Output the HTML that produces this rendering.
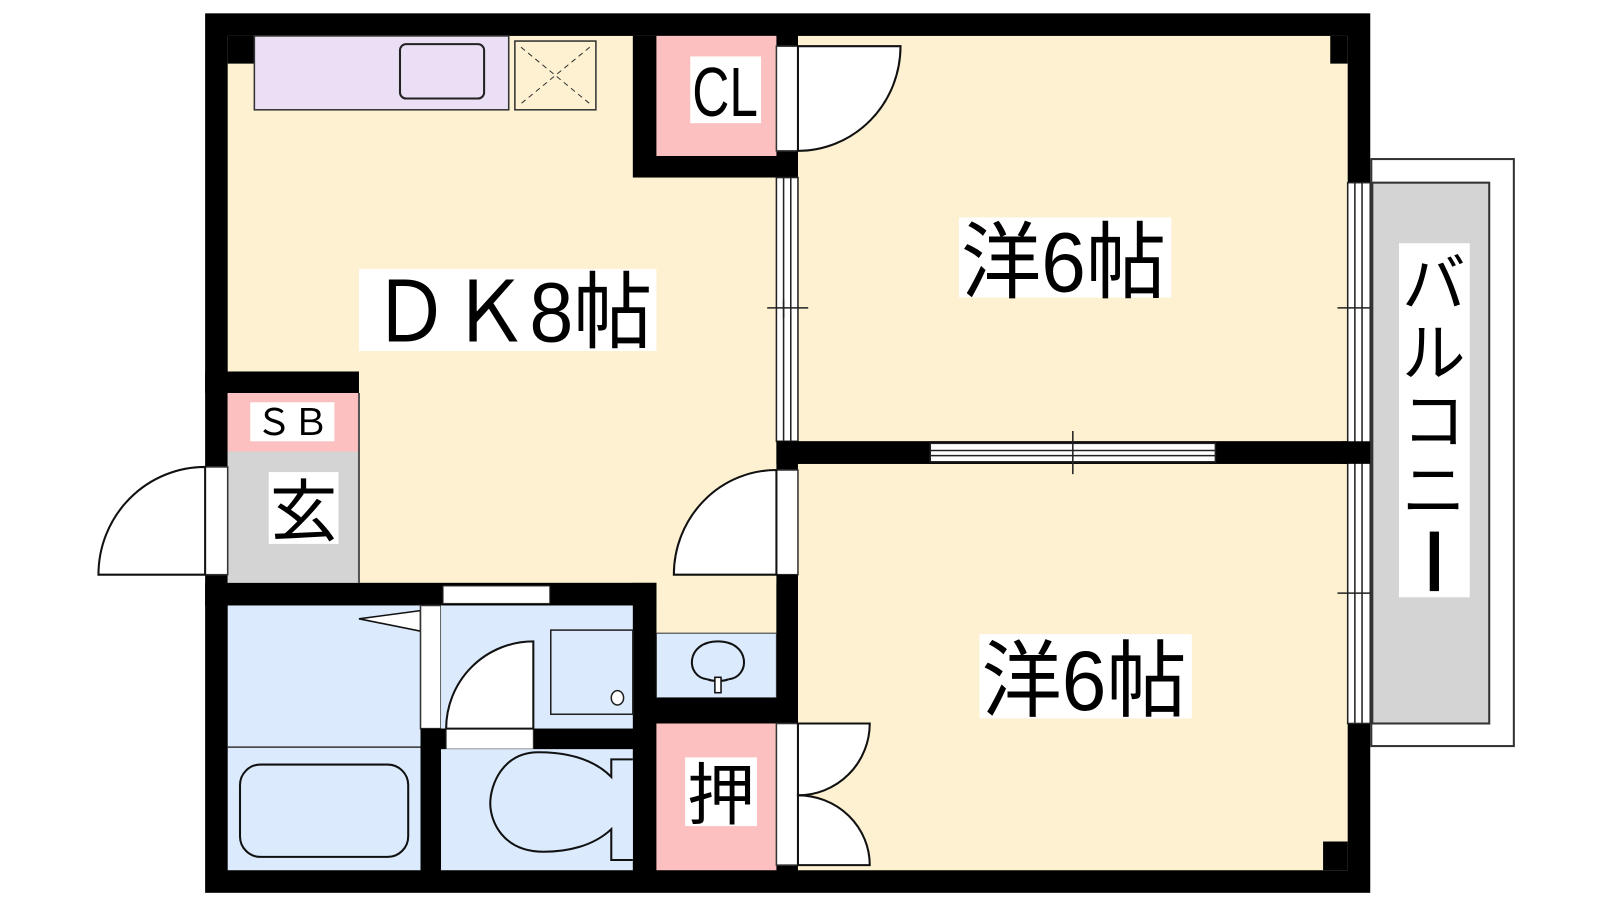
<!DOCTYPE html>
<html><head><meta charset="utf-8"><style>
html,body{margin:0;padding:0;background:#fff;width:1600px;height:900px;overflow:hidden}
svg{display:block}
text{font-family:"Liberation Sans","Noto Sans CJK JP",sans-serif;fill:#000}
</style></head><body>
<svg width="1600" height="900" viewBox="0 0 1560 877" preserveAspectRatio="none" xmlns="http://www.w3.org/2000/svg">
<rect x="200" y="13" width="1136" height="857" fill="#000"/>
<rect x="222" y="35" width="535" height="533" fill="#fdf1d1"/>
<rect x="778" y="35" width="536" height="395" fill="#fdf1d1"/>
<rect x="778" y="452" width="536" height="396" fill="#fdf1d1"/>
<rect x="640" y="560" width="117" height="60" fill="#fdf1d1"/>
<rect x="222" y="35" width="26" height="27" fill="#000"/>
<rect x="1297" y="35" width="17" height="27" fill="#000"/>
<rect x="1290" y="820" width="24" height="28" fill="#000"/>
<rect x="248" y="35" width="248" height="72" fill="#ebdff5" stroke="#333" stroke-width="1.5"/>
<rect x="390" y="43" width="82" height="53" rx="6" fill="#ebdff5" stroke="#222" stroke-width="2"/>
<rect x="502" y="40" width="79" height="67" fill="#fdf1d1" stroke="#333" stroke-width="1.5"/>
<path d="M508 46 L575 101 M575 46 L508 101" stroke="#333" stroke-dasharray="5,4" stroke-width="1"/>
<rect x="617" y="35" width="161" height="138" fill="#000"/>
<rect x="640" y="35" width="117" height="117" fill="#fdc0c0"/>
<rect x="673" y="55" width="69" height="65" fill="#fff"/>
<text x="675" y="113" font-size="68" textLength="64" lengthAdjust="spacingAndGlyphs">CL</text>
<rect x="757" y="45" width="21" height="102" fill="#fff" stroke="#333" stroke-width="1.5"/>
<path d="M778 45 L878 45 A100 102 0 0 1 778 147 Z" fill="#fff" stroke="#111" stroke-width="2"/>
<rect x="757" y="173" width="21" height="257" fill="#fff" stroke="#222" stroke-width="1.5"/>
<line x1="764" y1="173" x2="764" y2="430" stroke="#222" stroke-width="1.5"/>
<line x1="771" y1="173" x2="771" y2="430" stroke="#222" stroke-width="1.5"/>
<line x1="748" y1="300" x2="788" y2="300" stroke="#222" stroke-width="1.5"/>
<line x1="764" y1="292" x2="764" y2="310" stroke="#222" stroke-width="1.5"/>
<rect x="757" y="430" width="579" height="22" fill="#000"/>
<rect x="907" y="432" width="278" height="18" fill="#fff" stroke="#222" stroke-width="1.5"/>
<line x1="907" y1="439" x2="1185" y2="439" stroke="#222" stroke-width="1.5"/>
<line x1="907" y1="444" x2="1185" y2="444" stroke="#222" stroke-width="1.5"/>
<line x1="1046" y1="420" x2="1046" y2="462" stroke="#222" stroke-width="1.5"/>
<rect x="1314" y="178" width="22" height="527" fill="#fff" stroke="#222" stroke-width="1.5"/>
<line x1="1321" y1="178" x2="1321" y2="705" stroke="#222" stroke-width="1.5"/>
<line x1="1328" y1="178" x2="1328" y2="705" stroke="#222" stroke-width="1.5"/>
<rect x="1308" y="430" width="28" height="22" fill="#000"/>
<line x1="1304" y1="300" x2="1346" y2="300" stroke="#222" stroke-width="1.5"/>
<line x1="1304" y1="578" x2="1346" y2="578" stroke="#222" stroke-width="1.5"/>
<rect x="1337" y="155" width="139" height="572" fill="#fff" stroke="#333" stroke-width="2"/>
<rect x="1338" y="178" width="114" height="527" fill="#d4d4d4" stroke="#333" stroke-width="2"/>
<rect x="1364" y="237" width="69" height="345" fill="#fff"/>
<text x="1398" y="298" font-size="62" text-anchor="middle">バ</text>
<text x="1398" y="366" font-size="62" text-anchor="middle">ル</text>
<text x="1398" y="432" font-size="62" text-anchor="middle">コ</text>
<text x="1398" y="500" font-size="62" text-anchor="middle">ニ</text>
<rect x="1394" y="518" width="9" height="58" fill="#000"/>
<rect x="350" y="262" width="290" height="80" fill="#fff"/>
<text x="362" y="333" font-size="82" textLength="274" lengthAdjust="spacingAndGlyphs">ＤＫ8帖</text>
<rect x="935" y="212" width="207" height="78" fill="#fff"/>
<text x="937" y="284" font-size="82" textLength="200" lengthAdjust="spacingAndGlyphs">洋6帖</text>
<rect x="955" y="618" width="207" height="82" fill="#fff"/>
<text x="957" y="692" font-size="82" textLength="200" lengthAdjust="spacingAndGlyphs">洋6帖</text>
<rect x="200" y="362" width="150" height="21" fill="#000"/>
<rect x="222" y="383" width="128" height="57" fill="#fdc0c0"/>
<rect x="244" y="392" width="82" height="38" fill="#fff"/>
<text x="285" y="424" font-size="36" text-anchor="middle">ＳＢ</text>
<rect x="222" y="440" width="128" height="128" fill="#d4d4d4"/>
<line x1="350" y1="383" x2="350" y2="568" stroke="#555" stroke-width="2"/>
<rect x="262" y="460" width="68" height="70" fill="#fff"/>
<text x="296" y="522" font-size="66" text-anchor="middle">玄</text>
<rect x="200" y="455" width="22" height="105" fill="#fff" stroke="#333" stroke-width="1.5"/>
<path d="M200 455 A104 105 0 0 0 96 560 L200 560 Z" fill="#fff" stroke="#111" stroke-width="2"/>
<rect x="757" y="458" width="21" height="102" fill="#fff" stroke="#333" stroke-width="1.5"/>
<path d="M757 458 A100 102 0 0 0 657 560 L757 560 Z" fill="#fff" stroke="#111" stroke-width="2"/>
<rect x="757" y="560" width="21" height="145" fill="#000"/>
<rect x="200" y="568" width="440" height="22" fill="#000"/>
<rect x="432" y="571" width="104" height="17" fill="#fff" stroke="#333" stroke-width="1"/>
<rect x="617" y="568" width="23" height="280" fill="#000"/>
<rect x="222" y="590" width="188" height="258" fill="#dbebfd"/>
<line x1="222" y1="728" x2="410" y2="728" stroke="#333" stroke-width="1.5"/>
<rect x="234" y="745" width="164" height="90" rx="20" fill="#dbebfd" stroke="#111" stroke-width="2"/>
<path d="M410 595 L350 603 L410 615 Z" fill="#fff" stroke="#111" stroke-width="1.5"/>
<rect x="410" y="590" width="20" height="120" fill="#fff" stroke="#333" stroke-width="1.5"/>
<rect x="430" y="590" width="187" height="120" fill="#dbebfd"/>
<rect x="410" y="710" width="207" height="20" fill="#000"/>
<rect x="410" y="730" width="20" height="118" fill="#000"/>
<rect x="435" y="710" width="85" height="20" fill="#fff" stroke="#333" stroke-width="1"/>
<path d="M520 625 L520 710 L435 710 A85 85 0 0 1 520 625 Z" fill="#fff" stroke="#111" stroke-width="2"/>
<rect x="537" y="614" width="80" height="82" fill="#dbebfd" stroke="#222" stroke-width="1.5"/>
<ellipse cx="602" cy="680" rx="6" ry="7" fill="#fff" stroke="#222" stroke-width="1.5"/>
<rect x="430" y="730" width="187" height="118" fill="#dbebfd"/>
<path d="M617 740 L596 740 L596 757 C575 736 545 733 525 733 C490 733 478 765 478 783 C478 800 490 830 530 830 C552 830 578 825 596 808 L596 838 L617 838" fill="#dbebfd" stroke="#111" stroke-width="2"/>
<rect x="640" y="617" width="117" height="63" fill="#dbebfd" stroke="#333" stroke-width="1"/>
<path d="M690 662 C668 660 668 625 700 625 C732 625 732 660 710 662" fill="none" stroke="#111" stroke-width="2"/>
<path d="M690 662 C695 664 705 664 710 662" fill="none" stroke="#111" stroke-width="2"/>
<rect x="697" y="660" width="6" height="15" fill="#fff" stroke="#111" stroke-width="1.5"/>
<rect x="640" y="680" width="138" height="25" fill="#000"/>
<rect x="640" y="705" width="117" height="143" fill="#fdc0c0"/>
<rect x="668" y="738" width="70" height="67" fill="#fff"/>
<text x="703" y="798" font-size="66" text-anchor="middle">押</text>
<rect x="757" y="705" width="21" height="138" fill="#fff" stroke="#333" stroke-width="1.5"/>
<path d="M778 705 L848 705 A70 70 0 0 1 778 775 Z" fill="#fff" stroke="#111" stroke-width="2"/>
<path d="M778 843 L848 843 A70 68 0 0 0 778 775 Z" fill="#fff" stroke="#111" stroke-width="2"/>
</svg>
</body></html>
